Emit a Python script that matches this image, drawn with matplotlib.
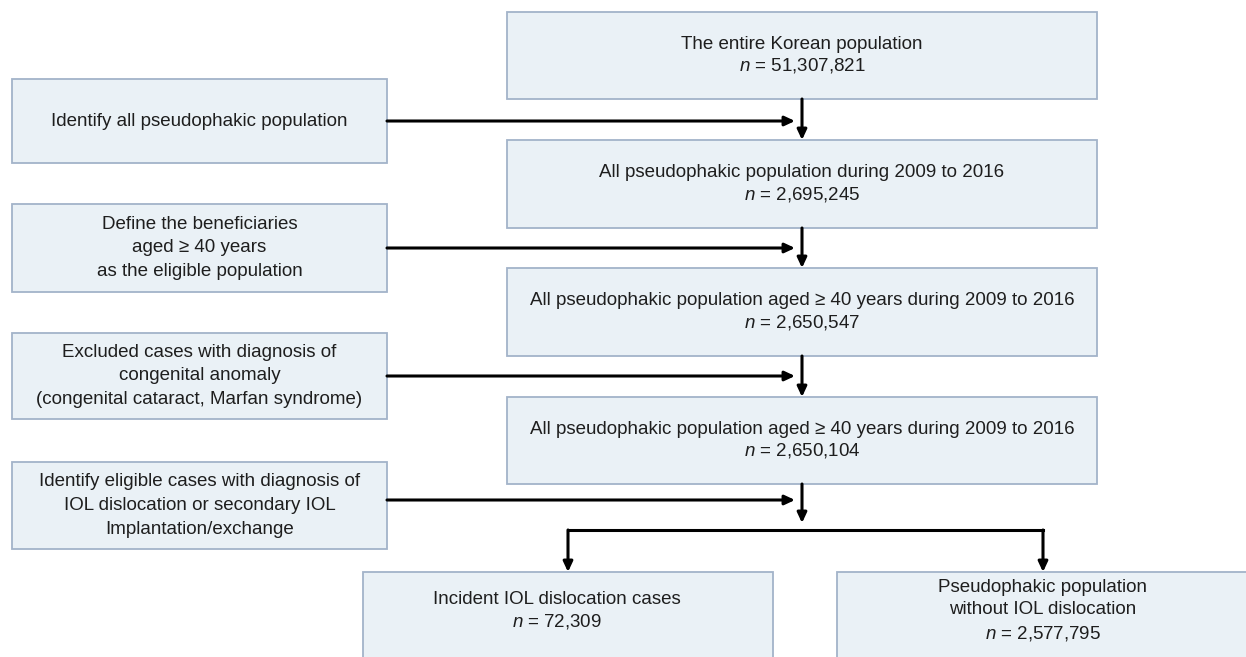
#!/usr/bin/env python3
import matplotlib
matplotlib.use("Agg")
import matplotlib.pyplot as plt
from matplotlib.patches import Rectangle

# --------------------------------------------------------------------
# Flowchart content
# --------------------------------------------------------------------
MAIN_TEXT = [
    "The entire Korean population",
    "All pseudophakic population during 2009 to 2016",
    "All pseudophakic population aged \u2265 40 years during 2009 to 2016",
    "All pseudophakic population aged \u2265 40 years during 2009 to 2016",
]
MAIN_N = ["51,307,821", "2,695,245", "2,650,547", "2,650,104"]

STEP_TEXT = [
    "Identify all pseudophakic population",
    "Define the beneficiaries\naged \u2265 40 years\nas the eligible population",
    "Excluded cases with diagnosis of\ncongenital anomaly\n(congenital cataract, Marfan syndrome)",
    "Identify eligible cases with diagnosis of\nIOL dislocation or secondary IOL\nImplantation/exchange",
]

OUT_TEXT = ["Incident IOL dislocation cases",
            "Pseudophakic population\nwithout IOL dislocation"]
OUT_N = ["72,309", "2,577,795"]

# --------------------------------------------------------------------
# Layout (pixel coords, y downwards)
# --------------------------------------------------------------------
W, H = 1246, 657
FILL = "#eaf1f6"
EDGE = "#a3b3c9"
TXT = "#1e1e1e"
FS = 13.5

MAIN_X = (507, 1097)
MAIN_Y = [(12, 99), (140, 228), (268, 356), (397, 484)]
STEP_X = (12, 387)
STEP_Y = [(79, 163), (204, 292), (333, 419), (462, 549)]
ARROW_Y = [121, 248, 376, 500]
SPINE_X = 802
SPLIT_Y = 530
OUT_BOX = [(363, 773, 572, 700), (837, 1249, 572, 700)]
OUT_CX = [568, 1043]
OUT_TX = [557, 1043]
OUT_LS = [1.22, 1.38]

plt.rcParams["font.family"] = ["Liberation Sans", "DejaVu Sans"]
plt.rcParams["mathtext.fontset"] = "custom"
plt.rcParams["mathtext.rm"] = "Liberation Sans"
plt.rcParams["mathtext.it"] = "Liberation Sans:italic"

fig = plt.figure(figsize=(W / 100, H / 100), dpi=100)
ax = fig.add_axes([0, 0, 1, 1])
ax.set_xlim(0, W)
ax.set_ylim(H, 0)
ax.axis("off")


def box(x0, x1, y0, y1, text, tx=None, ty=None, ls=1.22):
    ax.add_patch(Rectangle((x0, y0), x1 - x0, y1 - y0, facecolor=FILL,
                           edgecolor=EDGE, linewidth=1.3, zorder=1))
    tx = (x0 + x1) / 2 if tx is None else tx
    ty = (y0 + y1) / 2 if ty is None else ty
    ax.text(tx, ty, text, ha="center", va="center",
            fontsize=FS, color=TXT, linespacing=ls, zorder=3)


def arrow(x0, y0, x1, y1):
    ax.annotate("", xy=(x1, y1), xytext=(x0, y0),
                arrowprops=dict(arrowstyle="-|>,head_length=0.6,head_width=0.28",
                                color="black", lw=2.2, shrinkA=0, shrinkB=0),
                zorder=4)


# main column
for (y0, y1), t, n in zip(MAIN_Y, MAIN_TEXT, MAIN_N):
    box(MAIN_X[0], MAIN_X[1], y0, y1, t + "\n$n$ = " + n)

# side steps
for (y0, y1), t, ay in zip(STEP_Y, STEP_TEXT, ARROW_Y):
    box(STEP_X[0], STEP_X[1], y0, y1, t, ls=1.5)
    arrow(STEP_X[1], ay, SPINE_X - 7, ay)

# vertical arrows between main boxes
for i in range(len(MAIN_Y) - 1):
    arrow(SPINE_X, MAIN_Y[i][1], SPINE_X, MAIN_Y[i + 1][0])
arrow(SPINE_X, MAIN_Y[-1][1], SPINE_X, SPLIT_Y - 7)

# split into two outcome boxes
ax.plot([OUT_CX[0], OUT_CX[1]], [SPLIT_Y, SPLIT_Y], color="black", lw=2.2,
        solid_capstyle="projecting", zorder=4)
for (x0, x1, y0, y1), cx, tx, ls, t, n in zip(OUT_BOX, OUT_CX, OUT_TX, OUT_LS,
                                               OUT_TEXT, OUT_N):
    arrow(cx, SPLIT_Y, cx, y0)
    box(x0, x1, y0, y1, t + "\n$n$ = " + n, tx=tx, ty=611, ls=ls)

fig.savefig("out.png", dpi=100, facecolor="white")
